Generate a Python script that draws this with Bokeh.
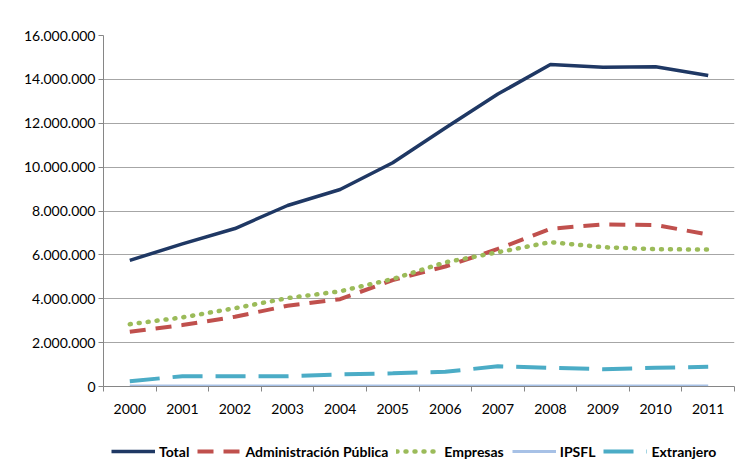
from bokeh.plotting import figure
from bokeh.models import (Legend, LegendItem, FixedTicker, Range1d)
from bokeh.layouts import column
from bokeh.embed import file_html
from bokeh.resources import INLINE

years = ["2000", "2001", "2002", "2003", "2004", "2005",
         "2006", "2007", "2008", "2009", "2010", "2011"]
total = [5750000, 6500000, 7200000, 8250000, 8980000, 10200000,
         11780000, 13330000, 14680000, 14550000, 14580000, 14180000]
admin = [2500000, 2800000, 3180000, 3680000, 3980000, 4850000,
         5470000, 6270000, 7190000, 7390000, 7360000, 6930000]
empresas = [2840000, 3150000, 3570000, 4030000, 4340000, 4900000,
            5660000, 6120000, 6580000, 6350000, 6260000, 6240000]
ipsfl = [20000, 20000, 20000, 20000, 20000, 20000,
         20000, 20000, 20000, 20000, 20000, 20000]
extranjero = [240000, 470000, 470000, 470000, 550000, 600000,
              670000, 920000, 850000, 790000, 850000, 900000]
y_ticks = [0, 2000000, 4000000, 6000000, 8000000, 10000000,
           12000000, 14000000, 16000000]
y_tick_labels = ["0", "2.000.000", "4.000.000", "6.000.000", "8.000.000",
                 "10.000.000", "12.000.000", "14.000.000", "16.000.000"]
series_names = ["Total", "Administración Pública", "Empresas", "IPSFL", "Extranjero"]

xs = list(range(len(years)))
series = [total, admin, empresas, ipsfl, extranjero]
FONT = "Lato"

styles = [
    dict(line_color="#1f3864", line_width=3.5, line_join="round"),
    dict(line_color="#c0504d", line_width=4, line_dash="16 10"),
    dict(line_color="#9bbb59", line_width=4.5, line_dash="1 8", line_cap="round"),
    dict(line_color="#a7c1e6", line_width=3),
    dict(line_color="#4bacc6", line_width=4, line_dash="30 13"),
]

main = figure(width=736, height=420, frame_width=631, frame_height=351,
              output_backend="svg", toolbar_location=None,
              x_range=Range1d(-0.5, len(years) - 0.5),
              y_range=Range1d(0, 16000000),
              min_border_left=103, min_border_right=2, min_border_top=35,
              min_border_bottom=34)
main.outline_line_color = None
main.background_fill_color = "white"
main.border_fill_color = "white"

main.xgrid.visible = False
main.ygrid.grid_line_color = "#a6a6a6"
main.ygrid.grid_line_width = 1

# x axis: labels at category centres, tick marks between categories
main.xaxis.ticker = FixedTicker(ticks=xs,
                                minor_ticks=[i - 0.5 for i in range(len(years) + 1)])
main.xaxis.major_label_overrides = {i: y for i, y in zip(xs, years)}
main.xaxis.major_tick_line_color = None
main.xaxis.major_tick_out = 5
main.xaxis.major_tick_in = 0
main.xaxis.minor_tick_line_color = "#868686"
main.xaxis.minor_tick_out = 5
main.xaxis.minor_tick_in = 0
main.xaxis.major_label_standoff = 12
main.xaxis.axis_line_color = "#868686"

# y axis
main.yaxis.ticker = FixedTicker(ticks=y_ticks, minor_ticks=[])
main.yaxis.major_label_overrides = {t: l for t, l in zip(y_ticks, y_tick_labels)}
main.yaxis.major_tick_out = 5
main.yaxis.major_tick_in = 0
main.yaxis.major_tick_line_color = "#868686"
main.yaxis.axis_line_color = "#868686"
main.yaxis.major_label_standoff = 3

for ax in (main.xaxis, main.yaxis):
    ax.major_label_text_font = FONT
    ax.major_label_text_font_size = "14px"
    ax.major_label_text_color = "#000000"

for vals, st in zip(series, styles):
    main.line(xs, vals, **st)

# legend strip below the chart (same series, drawn outside this strip's view)
leg = figure(width=736, height=46, output_backend="svg", toolbar_location=None,
             x_axis_type=None, y_axis_type=None,
             x_range=Range1d(-0.5, len(years) - 0.5),
             y_range=Range1d(-30000000, -20000000),
             min_border_left=103, min_border_right=2, min_border_top=0,
             min_border_bottom=0)
leg.outline_line_color = None
leg.xgrid.visible = False
leg.ygrid.visible = False
leg.background_fill_color = "white"
leg.border_fill_color = "white"

items = []
for name, vals, st in zip(series_names, series, styles):
    r = leg.line(xs, vals, **st)
    items.append(LegendItem(label=name, renderers=[r]))

legend = Legend(items=items, orientation="horizontal", location=(8, 5))
legend.label_text_font = FONT
legend.label_text_font_size = "14px"
legend.label_text_font_style = "bold"
legend.label_text_color = "#000000"
legend.glyph_width = 44
legend.label_standoff = 4
legend.spacing = 8
legend.border_line_color = None
legend.background_fill_alpha = 0
legend.padding = 4
legend.margin = 0
leg.add_layout(legend, "center")

p = column(main, leg, spacing=0)

open("out.html", "w").write(file_html(p, INLINE))
